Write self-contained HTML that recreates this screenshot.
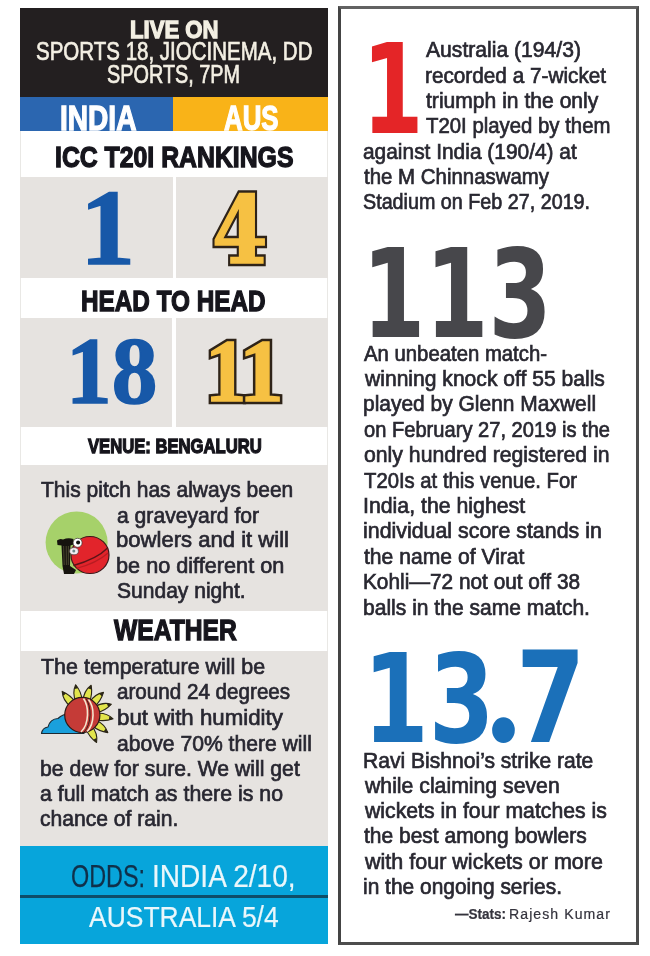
<!DOCTYPE html>
<html><head><meta charset="utf-8"><title>India vs Australia T20I</title>
<style>
html,body{margin:0;padding:0;background:#fff;}
body{width:650px;height:956px;position:relative;overflow:hidden;}
.b{position:absolute;}
.t{position:absolute;white-space:pre;}
</style></head><body>
<div class="b" style="left:20px;top:8px;width:308px;height:89px;background:#231f20"></div>
<div class="b" style="left:20px;top:97px;width:153px;height:34px;background:#2b66b0"></div>
<div class="b" style="left:173px;top:97px;width:155px;height:34px;background:#f9b318"></div>
<div class="b" style="left:20px;top:131px;width:308px;height:715px;border-left:1px solid #e9e8e5;border-right:1px solid #e9e8e5;box-sizing:border-box"></div>
<div class="b" style="left:20px;top:177px;width:152.5px;height:101px;background:#e6e3e0"></div>
<div class="b" style="left:176px;top:177px;width:152px;height:101px;background:#e6e3e0"></div>
<div class="b" style="left:20px;top:318px;width:152px;height:109px;background:#e6e3e0"></div>
<div class="b" style="left:175.5px;top:318px;width:152.5px;height:109px;background:#e6e3e0"></div>
<div class="b" style="left:20px;top:465px;width:308px;height:146px;background:#e6e3e0"></div>
<div class="b" style="left:20px;top:650.5px;width:308px;height:195.5px;background:#e6e3e0"></div>
<div class="b" style="left:20px;top:846px;width:308px;height:98px;background:#07a5db"></div>
<div class="b" style="left:20px;top:894.5px;width:308px;height:3px;background:#0e4d68"></div>
<div class="b" style="left:338px;top:6px;width:301px;height:939px;border:3px solid #4d4d4d;border-top-color:#626262;border-left-color:#444;box-sizing:border-box"></div>
<svg class="b" style="left:0;top:0" width="650" height="956" viewBox="0 0 650 956">
<!-- pitch icon -->
<circle cx="76.6" cy="542.5" r="31" fill="#a6d16a"/>
<path d="M57,540.5 Q60,538 63,539.5 Q68,537.5 73.5,539 L73.5,544.5 L70.5,545.5 L70,566 L76,570 L74,574 L64,574 L62.5,566 L61.5,545.5 L57.5,545 Z" fill="#16130e"/>
<path d="M63.6,546 L64.2,565 M66.2,546 L66.4,565 M68.4,546 L68.3,565" stroke="#5d5a3c" stroke-width="0.7"/>
<ellipse cx="90" cy="555" rx="19" ry="18.5" fill="#e2242b" stroke="#40161a" stroke-width="1.2"/>
<path d="M73.5,565.5 C84,562.5 98,558 107.5,548" fill="none" stroke="#5c1418" stroke-width="1.4"/>
<path d="M76,568.5 C86,566 98,562 108,553" fill="none" stroke="#b81c22" stroke-width="1.2"/>
<circle cx="77.6" cy="542.8" r="4.5" fill="#fff" stroke="#3a3030" stroke-width="0.7"/>
<circle cx="78.1" cy="542.5" r="2" fill="#111"/>
<ellipse cx="74" cy="551.2" rx="4.4" ry="3.6" fill="#f3eef2" stroke="#4a3a3a" stroke-width="0.7"/>
<circle cx="73.8" cy="550.9" r="1.5" fill="#6d8a8c"/>
<!-- weather icon -->
<path transform="translate(82.3 715.0) rotate(-131)" d="M14,-3.2 C20,-4.5 26,-3.5 31,0.3 C26,2.8 20,4 14,3.2 Z" fill="#e2e54c" stroke="#2b2618" stroke-width="1.1" stroke-linejoin="round"/><path transform="translate(82.3 715.0) rotate(-131)" d="M27,-1.6 C29,-1 30.5,0 31,0.3 C30,1.2 28.5,1.6 27,1.8 Z" fill="#2b2618"/><path transform="translate(82.3 715.0) rotate(-103)" d="M14,-3.2 C20,-4.5 26,-3.5 31,0.3 C26,2.8 20,4 14,3.2 Z" fill="#e2e54c" stroke="#2b2618" stroke-width="1.1" stroke-linejoin="round"/><path transform="translate(82.3 715.0) rotate(-103)" d="M27,-1.6 C29,-1 30.5,0 31,0.3 C30,1.2 28.5,1.6 27,1.8 Z" fill="#2b2618"/><path transform="translate(82.3 715.0) rotate(-74)" d="M14,-3.2 C20,-4.5 26,-3.5 31,0.3 C26,2.8 20,4 14,3.2 Z" fill="#e2e54c" stroke="#2b2618" stroke-width="1.1" stroke-linejoin="round"/><path transform="translate(82.3 715.0) rotate(-74)" d="M27,-1.6 C29,-1 30.5,0 31,0.3 C30,1.2 28.5,1.6 27,1.8 Z" fill="#2b2618"/><path transform="translate(82.3 715.0) rotate(-47.5)" d="M14,-3.2 C20,-4.5 26,-3.5 31,0.3 C26,2.8 20,4 14,3.2 Z" fill="#e2e54c" stroke="#2b2618" stroke-width="1.1" stroke-linejoin="round"/><path transform="translate(82.3 715.0) rotate(-47.5)" d="M27,-1.6 C29,-1 30.5,0 31,0.3 C30,1.2 28.5,1.6 27,1.8 Z" fill="#2b2618"/><path transform="translate(82.3 715.0) rotate(-21)" d="M14,-3.2 C20,-4.5 26,-3.5 31,0.3 C26,2.8 20,4 14,3.2 Z" fill="#e2e54c" stroke="#2b2618" stroke-width="1.1" stroke-linejoin="round"/><path transform="translate(82.3 715.0) rotate(-21)" d="M27,-1.6 C29,-1 30.5,0 31,0.3 C30,1.2 28.5,1.6 27,1.8 Z" fill="#2b2618"/><path transform="translate(82.3 715.0) rotate(6.5)" d="M14,-3.2 C20,-4.5 26,-3.5 31,0.3 C26,2.8 20,4 14,3.2 Z" fill="#e2e54c" stroke="#2b2618" stroke-width="1.1" stroke-linejoin="round"/><path transform="translate(82.3 715.0) rotate(6.5)" d="M27,-1.6 C29,-1 30.5,0 31,0.3 C30,1.2 28.5,1.6 27,1.8 Z" fill="#2b2618"/><path transform="translate(82.3 715.0) rotate(34)" d="M14,-3.2 C20,-4.5 26,-3.5 31,0.3 C26,2.8 20,4 14,3.2 Z" fill="#e2e54c" stroke="#2b2618" stroke-width="1.1" stroke-linejoin="round"/><path transform="translate(82.3 715.0) rotate(34)" d="M27,-1.6 C29,-1 30.5,0 31,0.3 C30,1.2 28.5,1.6 27,1.8 Z" fill="#2b2618"/><path transform="translate(82.3 715.0) rotate(62)" d="M14,-3.2 C20,-4.5 26,-3.5 31,0.3 C26,2.8 20,4 14,3.2 Z" fill="#e2e54c" stroke="#2b2618" stroke-width="1.1" stroke-linejoin="round"/><path transform="translate(82.3 715.0) rotate(62)" d="M27,-1.6 C29,-1 30.5,0 31,0.3 C30,1.2 28.5,1.6 27,1.8 Z" fill="#2b2618"/>
<path d="M41.5,733.5 C42,730 44.5,727.5 48,727 C49,722 53,718.5 58,718.5 C61,715.5 66,713.5 72,714 L84,733.5 Z" fill="#1aa0dc" stroke="#1d2a33" stroke-width="1.2" stroke-linejoin="round"/>
<circle cx="82.3" cy="715.0" r="17.6" fill="#c53b37" stroke="#2d1a16" stroke-width="1.2"/>
<path d="M83.5,698.5 C89,706 89.5,724 81,732" fill="none" stroke="#f4e6cf" stroke-width="1.6"/>
<path d="M86,698.8 C91.5,706 92,724 84,732.2" fill="none" stroke="#3a1f1a" stroke-width="1"/>
<path d="M88.5,699.5 C94.5,707 95,723 87.2,731.5" fill="none" stroke="#f4e6cf" stroke-width="1.6"/>
</svg>
<div class="t" style="left:130.00px;top:17.80px;font-family:'Liberation Sans', sans-serif;font-weight:700;font-size:24.75px;line-height:24.75px;color:#f3efe3;transform-origin:0 20.00px;transform:scaleX(0.8946);-webkit-text-stroke:1.3px #f3efe3;">LIVE ON</div>
<div class="t" style="left:36.13px;top:37.50px;font-family:'Liberation Sans', sans-serif;font-weight:400;font-size:26.31px;line-height:26.31px;color:#f3efe3;transform-origin:0 22.00px;transform:scaleX(0.7797);-webkit-text-stroke:0.7px #f3efe3;">SPORTS 18, JIOCINEMA, DD</div>
<div class="t" style="left:107.45px;top:61.50px;font-family:'Liberation Sans', sans-serif;font-weight:400;font-size:25.6px;line-height:25.6px;color:#f3efe3;transform-origin:0 21.00px;transform:scaleX(0.7754);-webkit-text-stroke:0.7px #f3efe3;">SPORTS, 7PM</div>
<div class="t" style="left:59.77px;top:100.10px;font-family:'Liberation Sans', sans-serif;font-weight:700;font-size:34.99px;line-height:34.99px;color:#ffffff;transform-origin:0 30.00px;transform:scaleX(0.8026);-webkit-text-stroke:1.3px #ffffff;">INDIA</div>
<div class="t" style="left:223.88px;top:100.10px;font-family:'Liberation Sans', sans-serif;font-weight:700;font-size:34.99px;line-height:34.99px;color:#ffffff;transform-origin:0 30.00px;transform:scaleX(0.7394);-webkit-text-stroke:1.3px #ffffff;">AUS</div>
<div class="t" style="left:55.21px;top:142.90px;font-family:'Liberation Sans', sans-serif;font-weight:700;font-size:28.59px;line-height:28.59px;color:#16151c;transform-origin:0 24.00px;transform:scaleX(0.8681);-webkit-text-stroke:1.3px #16151c;">ICC T20I RANKINGS</div>
<div class="t" style="left:81.03px;top:286.80px;font-family:'Liberation Sans', sans-serif;font-weight:700;font-size:28.87px;line-height:28.87px;color:#16151c;transform-origin:0 24.00px;transform:scaleX(0.8424);-webkit-text-stroke:1.3px #16151c;">HEAD TO HEAD</div>
<div class="t" style="left:88.04px;top:436.40px;font-family:'Liberation Sans', sans-serif;font-weight:700;font-size:20.2px;line-height:20.2px;color:#16151c;transform-origin:0 17.00px;transform:scaleX(0.8236);-webkit-text-stroke:1.3px #16151c;">VENUE: BENGALURU</div>
<div class="t" style="left:114.36px;top:616.20px;font-family:'Liberation Sans', sans-serif;font-weight:700;font-size:28.73px;line-height:28.73px;color:#16151c;transform-origin:0 24.00px;transform:scaleX(0.8585);-webkit-text-stroke:1.3px #16151c;">WEATHER</div>
<div class="t" style="left:80.20px;top:173.70px;font-family:'Liberation Serif', serif;font-weight:700;font-size:107.46px;line-height:107.46px;color:#1758a8;transform-origin:0 90.00px;transform:scaleX(1.0263);-webkit-text-stroke:1.6px #1758a8;">1</div>
<div class="t" style="left:66.23px;top:324.00px;font-family:'Liberation Serif', serif;font-weight:700;font-size:95.26px;line-height:95.26px;color:#1758a8;transform-origin:0 79.00px;transform:scaleX(0.9590);-webkit-text-stroke:1.6px #1758a8;">18</div>
<div class="t" style="left:211.82px;top:183.50px;font-family:'DejaVu Serif', serif;font-weight:700;font-size:93.6px;line-height:93.6px;transform-origin:0 79.00px;transform:scaleX(0.8525);color:#2e2318;-webkit-text-stroke:6.6px #2e2318;">4</div>
<div class="t" style="left:211.82px;top:183.50px;font-family:'DejaVu Serif', serif;font-weight:700;font-size:93.6px;line-height:93.6px;transform-origin:0 79.00px;transform:scaleX(0.8525);color:#f6c143;-webkit-text-stroke:1.6px #f6c143;">4</div>
<div class="t" style="left:204.86px;top:326.10px;font-family:'Liberation Serif', serif;font-weight:700;font-size:88.11px;line-height:88.11px;transform-origin:0 74.00px;transform:scaleX(0.9611);color:#2e2318;-webkit-text-stroke:6.6px #2e2318;">1</div>
<div class="t" style="left:204.86px;top:326.10px;font-family:'Liberation Serif', serif;font-weight:700;font-size:88.11px;line-height:88.11px;transform-origin:0 74.00px;transform:scaleX(0.9611);color:#f6c143;-webkit-text-stroke:1.6px #f6c143;">1</div>
<div class="t" style="left:239.27px;top:326.10px;font-family:'Liberation Serif', serif;font-weight:700;font-size:88.11px;line-height:88.11px;transform-origin:0 74.00px;transform:scaleX(1.0141);color:#2e2318;-webkit-text-stroke:6.6px #2e2318;">1</div>
<div class="t" style="left:239.27px;top:326.10px;font-family:'Liberation Serif', serif;font-weight:700;font-size:88.11px;line-height:88.11px;transform-origin:0 74.00px;transform:scaleX(1.0141);color:#f6c143;-webkit-text-stroke:1.6px #f6c143;">1</div>
<div class="t" style="left:40.80px;top:479.30px;font-family:'Liberation Sans', sans-serif;font-weight:400;font-size:22.5px;line-height:22.5px;color:#282731;transform-origin:0 18.00px;transform:scaleX(0.9338);-webkit-text-stroke:0.7px #282731;">This pitch has always been</div>
<div class="t" style="left:116.67px;top:504.50px;font-family:'Liberation Sans', sans-serif;font-weight:400;font-size:22.5px;line-height:22.5px;color:#282731;transform-origin:0 18.00px;transform:scaleX(0.9391);-webkit-text-stroke:0.7px #282731;">a graveyard for</div>
<div class="t" style="left:115.96px;top:529.40px;font-family:'Liberation Sans', sans-serif;font-weight:400;font-size:22.5px;line-height:22.5px;color:#282731;transform-origin:0 18.00px;transform:scaleX(0.9809);-webkit-text-stroke:0.7px #282731;">bowlers and it will</div>
<div class="t" style="left:115.98px;top:554.50px;font-family:'Liberation Sans', sans-serif;font-weight:400;font-size:22.5px;line-height:22.5px;color:#282731;transform-origin:0 18.00px;transform:scaleX(0.9632);-webkit-text-stroke:0.7px #282731;">be no different on</div>
<div class="t" style="left:116.67px;top:580.20px;font-family:'Liberation Sans', sans-serif;font-weight:400;font-size:22.5px;line-height:22.5px;color:#282731;transform-origin:0 18.00px;transform:scaleX(0.9353);-webkit-text-stroke:0.7px #282731;">Sunday night.</div>
<div class="t" style="left:40.50px;top:656.40px;font-family:'Liberation Sans', sans-serif;font-weight:400;font-size:22.5px;line-height:22.5px;color:#282731;transform-origin:0 18.00px;transform:scaleX(0.9533);-webkit-text-stroke:0.7px #282731;">The temperature will be</div>
<div class="t" style="left:116.68px;top:681.40px;font-family:'Liberation Sans', sans-serif;font-weight:400;font-size:22.5px;line-height:22.5px;color:#282731;transform-origin:0 18.00px;transform:scaleX(0.9166);-webkit-text-stroke:0.7px #282731;">around 24 degrees</div>
<div class="t" style="left:116.55px;top:706.60px;font-family:'Liberation Sans', sans-serif;font-weight:400;font-size:22.5px;line-height:22.5px;color:#282731;transform-origin:0 18.00px;transform:scaleX(0.9894);-webkit-text-stroke:0.7px #282731;">but with humidity</div>
<div class="t" style="left:116.67px;top:732.60px;font-family:'Liberation Sans', sans-serif;font-weight:400;font-size:22.5px;line-height:22.5px;color:#282731;transform-origin:0 18.00px;transform:scaleX(0.9387);-webkit-text-stroke:0.7px #282731;">above 70% there will</div>
<div class="t" style="left:39.51px;top:757.90px;font-family:'Liberation Sans', sans-serif;font-weight:400;font-size:22.5px;line-height:22.5px;color:#282731;transform-origin:0 18.00px;transform:scaleX(0.9414);-webkit-text-stroke:0.7px #282731;">be dew for sure. We will get</div>
<div class="t" style="left:40.17px;top:783.20px;font-family:'Liberation Sans', sans-serif;font-weight:400;font-size:22.5px;line-height:22.5px;color:#282731;transform-origin:0 18.00px;transform:scaleX(0.9481);-webkit-text-stroke:0.7px #282731;">a full match as there is no</div>
<div class="t" style="left:40.47px;top:808.10px;font-family:'Liberation Sans', sans-serif;font-weight:400;font-size:22.5px;line-height:22.5px;color:#282731;transform-origin:0 18.00px;transform:scaleX(0.9371);-webkit-text-stroke:0.7px #282731;">chance of rain.</div>
<div class="t" style="left:70.79px;top:859.60px;font-family:'Liberation Sans', sans-serif;font-weight:400;font-size:32.14px;line-height:32.14px;color:#10304a;transform-origin:0 27.00px;transform:scaleX(0.7283);-webkit-text-stroke:0.25px #10304a;">ODDS:</div>
<div class="t" style="left:151.60px;top:861.60px;font-family:'Liberation Sans', sans-serif;font-weight:400;font-size:30.77px;line-height:30.77px;color:#eaf7fb;transform-origin:0 25.00px;transform:scaleX(0.9130);-webkit-text-stroke:0.2px #eaf7fb;">INDIA 2/10,</div>
<div class="t" style="left:89.09px;top:901.90px;font-family:'Liberation Sans', sans-serif;font-weight:400;font-size:29.82px;line-height:29.82px;color:#eaf7fb;transform-origin:0 25.00px;transform:scaleX(0.8873);-webkit-text-stroke:0.2px #eaf7fb;">AUSTRALIA 5/4</div>
<div class="t" style="left:361.82px;top:28.00px;font-family:'DejaVu Sans', sans-serif;font-weight:700;font-size:124.19px;line-height:124.19px;color:#e42527;transform-origin:0 105.00px;transform:scaleX(0.7124);">1</div>
<div class="t" style="left:425.83px;top:39.20px;font-family:'Liberation Sans', sans-serif;font-weight:400;font-size:22.5px;line-height:22.5px;color:#292831;transform-origin:0 18.00px;transform:scaleX(0.9385);-webkit-text-stroke:0.7px #292831;">Australia (194/3)</div>
<div class="t" style="left:424.53px;top:64.70px;font-family:'Liberation Sans', sans-serif;font-weight:400;font-size:22.5px;line-height:22.5px;color:#292831;transform-origin:0 18.00px;transform:scaleX(0.9223);-webkit-text-stroke:0.7px #292831;">recorded a 7-wicket</div>
<div class="t" style="left:425.83px;top:89.70px;font-family:'Liberation Sans', sans-serif;font-weight:400;font-size:22.5px;line-height:22.5px;color:#292831;transform-origin:0 18.00px;transform:scaleX(0.9374);-webkit-text-stroke:0.7px #292831;">triumph in the only</div>
<div class="t" style="left:425.50px;top:115.00px;font-family:'Liberation Sans', sans-serif;font-weight:400;font-size:22.5px;line-height:22.5px;color:#292831;transform-origin:0 18.00px;transform:scaleX(0.9047);-webkit-text-stroke:0.7px #292831;">T20I played by them</div>
<div class="t" style="left:363.17px;top:140.60px;font-family:'Liberation Sans', sans-serif;font-weight:400;font-size:22.5px;line-height:22.5px;color:#292831;transform-origin:0 18.00px;transform:scaleX(0.9287);-webkit-text-stroke:0.7px #292831;">against India (190/4) at</div>
<div class="t" style="left:363.82px;top:166.00px;font-family:'Liberation Sans', sans-serif;font-weight:400;font-size:22.5px;line-height:22.5px;color:#292831;transform-origin:0 18.00px;transform:scaleX(0.9079);-webkit-text-stroke:0.7px #292831;">the M Chinnaswamy</div>
<div class="t" style="left:363.19px;top:191.00px;font-family:'Liberation Sans', sans-serif;font-weight:400;font-size:22.5px;line-height:22.5px;color:#292831;transform-origin:0 18.00px;transform:scaleX(0.8770);-webkit-text-stroke:0.7px #292831;">Stadium on Feb 27, 2019.</div>
<div class="t" style="left:362.05px;top:233.60px;font-family:'DejaVu Sans', sans-serif;font-weight:700;font-size:122.8px;line-height:122.8px;color:#47474b;transform-origin:0 103.00px;transform:scaleX(0.7408);">113</div>
<div class="t" style="left:364.42px;top:342.60px;font-family:'Liberation Sans', sans-serif;font-weight:400;font-size:22.5px;line-height:22.5px;color:#292831;transform-origin:0 18.00px;transform:scaleX(0.9031);-webkit-text-stroke:0.7px #292831;">An unbeaten match-</div>
<div class="t" style="left:364.76px;top:367.90px;font-family:'Liberation Sans', sans-serif;font-weight:400;font-size:22.5px;line-height:22.5px;color:#292831;transform-origin:0 18.00px;transform:scaleX(0.9370);-webkit-text-stroke:0.7px #292831;">winning knock off 55 balls</div>
<div class="t" style="left:363.12px;top:393.30px;font-family:'Liberation Sans', sans-serif;font-weight:400;font-size:22.5px;line-height:22.5px;color:#292831;transform-origin:0 18.00px;transform:scaleX(0.9317);-webkit-text-stroke:0.7px #292831;">played by Glenn Maxwell</div>
<div class="t" style="left:363.78px;top:418.60px;font-family:'Liberation Sans', sans-serif;font-weight:400;font-size:22.5px;line-height:22.5px;color:#292831;transform-origin:0 18.00px;transform:scaleX(0.8940);-webkit-text-stroke:0.7px #292831;">on February 27, 2019 is the</div>
<div class="t" style="left:363.77px;top:443.90px;font-family:'Liberation Sans', sans-serif;font-weight:400;font-size:22.5px;line-height:22.5px;color:#292831;transform-origin:0 18.00px;transform:scaleX(0.9436);-webkit-text-stroke:0.7px #292831;">only hundred registered in</div>
<div class="t" style="left:364.10px;top:469.50px;font-family:'Liberation Sans', sans-serif;font-weight:400;font-size:22.5px;line-height:22.5px;color:#292831;transform-origin:0 18.00px;transform:scaleX(0.9011);-webkit-text-stroke:0.7px #292831;">T20Is at this venue. For</div>
<div class="t" style="left:362.77px;top:494.80px;font-family:'Liberation Sans', sans-serif;font-weight:400;font-size:22.5px;line-height:22.5px;color:#292831;transform-origin:0 18.00px;transform:scaleX(0.9460);-webkit-text-stroke:0.7px #292831;">India, the highest</div>
<div class="t" style="left:363.10px;top:520.30px;font-family:'Liberation Sans', sans-serif;font-weight:400;font-size:22.5px;line-height:22.5px;color:#292831;transform-origin:0 18.00px;transform:scaleX(0.9498);-webkit-text-stroke:0.7px #292831;">individual score stands in</div>
<div class="t" style="left:364.43px;top:545.90px;font-family:'Liberation Sans', sans-serif;font-weight:400;font-size:22.5px;line-height:22.5px;color:#292831;transform-origin:0 18.00px;transform:scaleX(0.9388);-webkit-text-stroke:0.7px #292831;">the name of Virat</div>
<div class="t" style="left:362.80px;top:571.40px;font-family:'Liberation Sans', sans-serif;font-weight:400;font-size:22.5px;line-height:22.5px;color:#292831;transform-origin:0 18.00px;transform:scaleX(0.9245);-webkit-text-stroke:0.7px #292831;">Kohli—72 not out off 38</div>
<div class="t" style="left:363.11px;top:596.70px;font-family:'Liberation Sans', sans-serif;font-weight:400;font-size:22.5px;line-height:22.5px;color:#292831;transform-origin:0 18.00px;transform:scaleX(0.9355);-webkit-text-stroke:0.7px #292831;">balls in the same match.</div>
<div class="t" style="left:362.55px;top:637.50px;font-family:'DejaVu Sans', sans-serif;font-weight:700;font-size:123.07px;line-height:123.07px;color:#1b70b9;transform-origin:0 104.00px;transform:scaleX(0.7687);">13</div>
<div class="t" style="left:486.23px;top:607.70px;font-family:'Liberation Serif', serif;font-weight:700;font-size:159.36px;line-height:159.36px;color:#1b70b9;transform-origin:0 133.00px;transform:scaleX(0.8768);">.</div>
<div class="t" style="left:515.76px;top:635.50px;font-family:'DejaVu Sans', sans-serif;font-weight:700;font-size:125.69px;line-height:125.69px;color:#1b70b9;transform-origin:0 106.00px;transform:scaleX(0.7949);">7</div>
<div class="t" style="left:362.78px;top:749.90px;font-family:'Liberation Sans', sans-serif;font-weight:400;font-size:22.5px;line-height:22.5px;color:#292831;transform-origin:0 18.00px;transform:scaleX(0.9366);-webkit-text-stroke:0.7px #292831;">Ravi Bishnoi’s strike rate</div>
<div class="t" style="left:364.76px;top:774.90px;font-family:'Liberation Sans', sans-serif;font-weight:400;font-size:22.5px;line-height:22.5px;color:#292831;transform-origin:0 18.00px;transform:scaleX(0.9436);-webkit-text-stroke:0.7px #292831;">while claiming seven</div>
<div class="t" style="left:364.76px;top:800.00px;font-family:'Liberation Sans', sans-serif;font-weight:400;font-size:22.5px;line-height:22.5px;color:#292831;transform-origin:0 18.00px;transform:scaleX(0.9436);-webkit-text-stroke:0.7px #292831;">wickets in four matches is</div>
<div class="t" style="left:364.43px;top:825.20px;font-family:'Liberation Sans', sans-serif;font-weight:400;font-size:22.5px;line-height:22.5px;color:#292831;transform-origin:0 18.00px;transform:scaleX(0.9323);-webkit-text-stroke:0.7px #292831;">the best among bowlers</div>
<div class="t" style="left:364.77px;top:850.50px;font-family:'Liberation Sans', sans-serif;font-weight:400;font-size:22.5px;line-height:22.5px;color:#292831;transform-origin:0 18.00px;transform:scaleX(0.9564);-webkit-text-stroke:0.7px #292831;">with four wickets or more</div>
<div class="t" style="left:363.12px;top:875.60px;font-family:'Liberation Sans', sans-serif;font-weight:400;font-size:22.5px;line-height:22.5px;color:#292831;transform-origin:0 18.00px;transform:scaleX(0.9306);-webkit-text-stroke:0.7px #292831;">in the ongoing series.</div>
<div class="t" style="left:455.30px;top:907.40px;font-family:'Liberation Sans', sans-serif;font-weight:700;font-size:14px;line-height:14px;color:#34333d;transform-origin:0 12.00px;transform:scaleX(0.9666);-webkit-text-stroke:0.2px #34333d;">—Stats:</div>
<div class="t" style="left:509.00px;top:907.40px;font-family:'Liberation Sans', sans-serif;font-weight:400;font-size:14px;line-height:14px;color:#34333d;transform-origin:0 12.00px;transform:scaleX(1.0071);-webkit-text-stroke:0.2px #34333d;letter-spacing:0.075em;">Rajesh Kumar</div>
</body></html>
